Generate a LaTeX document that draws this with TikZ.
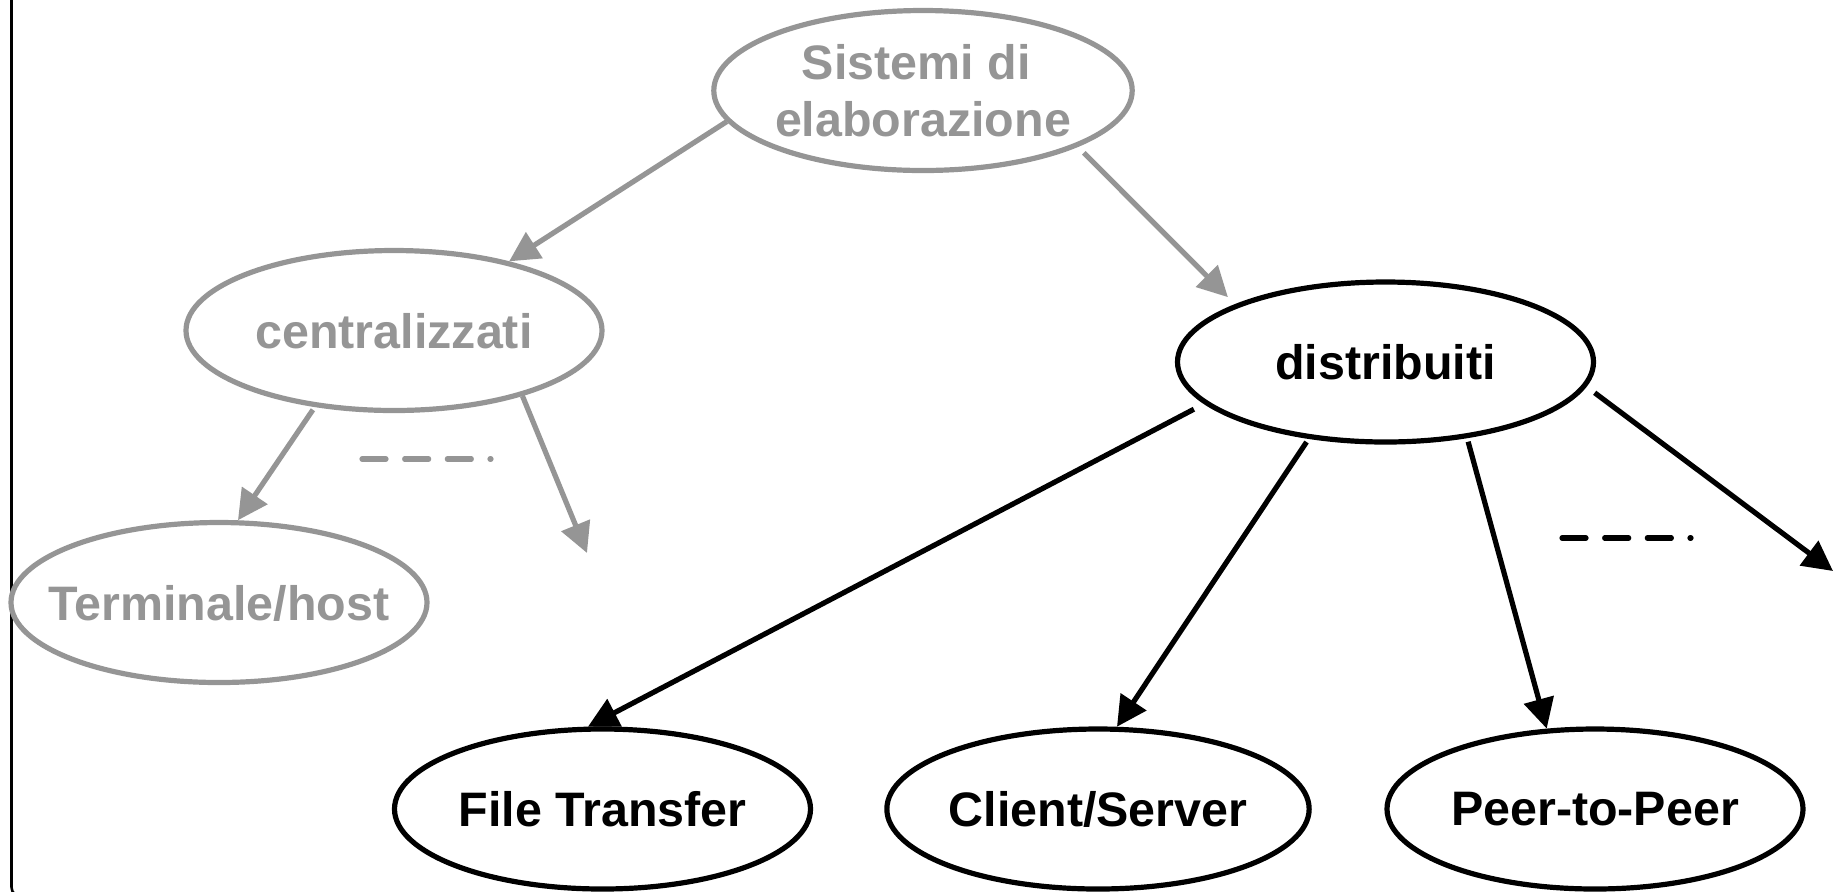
\documentclass[tikz,border=0pt]{standalone}
\usepackage{fontspec}
\setmainfont{Liberation Sans}
\usetikzlibrary{shapes.geometric,arrows.meta}
\definecolor{gcol}{RGB}{149,149,149}
\tikzset{
  blob/.style={ellipse, draw, line width=2.6pt, minimum width=208pt, minimum height=80pt,
    inner sep=0pt, text depth=0pt, align=center,
    font=\fontsize{24.2pt}{28.5pt}\selectfont\bfseries},
  gblob/.style={blob, draw=gcol, text=gcol},
  bblob/.style={blob, draw=black, text=black},
  link/.style={line width=2.6pt, -{Triangle[length=15pt,width=15pt]}},
  glink/.style={link, draw=gcol, fill=gcol},
  blink/.style={link, draw=black, fill=black},
  etc/.style={line width=2.6pt, line cap=round, dash pattern=on 12pt off 9.33pt}
}
\begin{document}
\begin{tikzpicture}[x=0.5pt,y=-0.5pt]
\useasboundingbox (0,0) rectangle (1841,891);
\clip (0,0) rectangle (1841,891);

% frame edge on the left, its lower corner just reaching the bottom
\draw[line width=1.3pt, rounded corners=5pt] (11.5,-10) -- (11.5,897) -- (40,897);

% nodes
\node[gblob] (sis) at (923,90.5) {Sistemi di\kern0.278em\\elaborazione};
\node[gblob] (cen) at (394,330.5) {centralizzati};
\node[gblob] (ter) at (219,602.5) {\makebox[0pt]{Terminale/host}};
\node[bblob] (dis) at (1385.5,362) {distribuiti};
\node[bblob] (ft) at (602.5,809) {File Transfer};
\node[bblob] (cs) at (1098,809) {Client/Server};
\node[bblob] (pp) at (1595,809) {Peer-to-Peer};

% free ends of open branches
\coordinate (cfree) at (587,553);
\coordinate (dfree) at (1833,571);
\coordinate (ga) at (362,459);
\coordinate (gb) at (491,459);
\coordinate (ba) at (1562,538);
\coordinate (bb) at (1691,538);

% connectors
\draw[glink] (sis.189.6) -- (cen.31);
\draw[glink, shorten <=4.25pt, shorten >=5pt] (sis.-20.3) -- (dis.159.7);
\draw[glink, shorten <=1.65pt] (cen.224.9) -- (ter.77.5);
\draw[glink] (cen.-27.3) -- (cfree);
\draw[blink, shorten <=5.7pt] (dis.193.3) -- (ft.100.1);
\draw[blink, shorten <=1.85pt] (dis.225.2) -- (cs.77.5);
\draw[blink, shorten <=1.85pt] (dis.-43.9) -- (pp.121.7);
\draw[blink, shorten <=5.1pt] (dis.-7.37) -- (dfree);

% ellipsis marks
\draw[etc, gcol] (ga) -- (gb);
\draw[etc, black] (ba) -- (bb);
\end{tikzpicture}
\end{document}
